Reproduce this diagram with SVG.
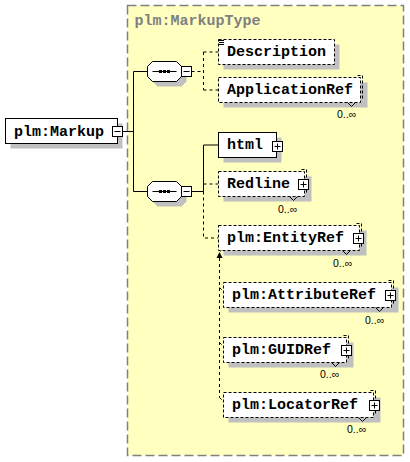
<svg xmlns="http://www.w3.org/2000/svg" xmlns:xlink="http://www.w3.org/1999/xlink" width="410" height="462" viewBox="0 0 410 462">
<style>
.bg{fill:#ffffc0;stroke:#808080;stroke-width:1.5;stroke-dasharray:9,4}
.title{font:bold 15px "Liberation Mono",monospace;fill:#808080}
.t{font:bold 15px "Liberation Mono",monospace;fill:#000}
.m{font:10.5px "Liberation Sans",Arial,sans-serif;fill:#000}
.box{fill:#fff;stroke:#000;stroke-width:1}
.opt{stroke-dasharray:3,2}
.sh{fill:#c0c0c0}
.c{fill:none;stroke:#000;stroke-width:1}
.d{stroke-dasharray:3,3}
.stk{fill:none;stroke:#000;stroke-width:1;stroke-dasharray:3,2}
</style>
<defs>
<g id="plus"><rect x="0.5" y="0.5" width="10" height="10" fill="#fff" stroke="#000"/><path d="M2.5 5.5H8.5M5.5 2.5V8.5" stroke="#000" fill="none"/></g>
<g id="minus"><rect x="0.5" y="0.5" width="10" height="10" fill="#fff" stroke="#000"/><path d="M2.5 5.5H8.5" stroke="#000" fill="none"/></g>
<g id="seq">
<polygon points="10,5 34,5 39,10 39,20 34,25 10,25 5,20 5,10" class="sh"/>
<polygon points="5,0 29,0 34,5 34,15 29,20 5,20 0,15 0,5" class="box"/>
<path d="M5 10H29" stroke="#000"/>
<rect x="11.5" y="8.5" width="3" height="3" fill="#000"/>
<rect x="15.5" y="8.5" width="3" height="3" fill="#000"/>
<rect x="19.5" y="8.5" width="3" height="3" fill="#000"/>
</g>
</defs>
<rect class="bg" x="127.5" y="5.5" width="276" height="450"/>
<text class="title" x="134.5" y="24.5">plm:MarkupType</text>

<g id="connectors">
<path class="c" d="M122.5 131.5H133.5M133.5 71.5V191.5M133.5 71.5H147.5M133.5 191.5H147.5M191.5 191.5H203.5M203.5 191.5V145H218.5"/>
<path class="c d" d="M191.5 71.5H203.5M203.5 52V90M203.5 52H218.5M203.5 90H218.5M203.5 184H218.5M203.5 191.5V238H218.5"/>
<path class="c d" d="M219.5 258V397.5M219.5 287.5L223.5 291.5M219.5 342.5L223.5 346.5M219.5 397.5L223.5 401.5"/>
<polygon points="219.5,252 216.5,258 222.5,258" fill="#000"/>
<path d="M220.5 251.5L223.5 247" stroke="#000" fill="none"/>
<polygon points="226,243.5 220.8,246 224.5,248.5" fill="#000"/>
</g>

<g id="markup">
<rect class="sh" x="10.5" y="123.5" width="112" height="25"/>
<rect class="box" x="5.5" y="118.5" width="112" height="25"/>
<text class="t" x="14" y="135.5">plm:Markup</text>
<use xlink:href="#minus" x="112" y="126"/>
</g>

<g id="seq1">
<use xlink:href="#seq" x="147.5" y="61.5"/>
<use xlink:href="#minus" x="181" y="66"/>
</g>
<g id="seq2">
<use xlink:href="#seq" x="147.5" y="181.5"/>
<use xlink:href="#minus" x="181" y="186"/>
</g>

<g id="description">
<rect class="sh" x="223.5" y="44.5" width="116" height="25"/>
<rect class="box opt" x="218.5" y="39.5" width="116" height="25"/>
<path d="M219 40.5H224M219 42.5H224M219 44.5H224" stroke="#000"/>
<text class="t" x="227" y="56">Description</text>
</g>

<g id="applicationref">
<rect class="sh" x="223.5" y="82.5" width="144" height="25"/>
<rect class="box opt" x="218.5" y="77.5" width="142" height="25"/>
<path class="stk" d="M357.5 75.5H362.5V99.5"/>
<path class="c" d="M347.5 102.5L351.5 106.5L355.5 102.5"/>
<text class="t" x="227" y="94">ApplicationRef</text>
<text class="m" x="337" y="118">0..∞</text>
</g>

<g id="html">
<rect class="sh" x="223.5" y="137.5" width="58" height="25"/>
<rect class="box" x="218.5" y="132.5" width="58" height="25"/>
<text class="t" x="227" y="149">html</text>
<use xlink:href="#plus" x="272" y="141"/>
</g>

<g id="redline">
<rect class="sh" x="223.5" y="176.5" width="88" height="25"/>
<rect class="box opt" x="218.5" y="171.5" width="86" height="25"/>
<path class="stk" d="M301.5 169.5H306.5V193.5"/>
<path class="c" d="M289.5 196.5L293.5 200.5L297.5 196.5"/>
<text class="t" x="227" y="188">Redline</text>
<use xlink:href="#plus" x="298" y="179"/>
<text class="m" x="278" y="212.5">0..∞</text>
</g>

<g id="entityref">
<rect class="sh" x="223.5" y="230.5" width="143" height="25"/>
<rect class="box opt" x="218.5" y="225.5" width="141" height="25"/>
<path class="stk" d="M356.5 223.5H361.5V247.5"/>
<path class="c" d="M342.5 250.5L346.5 254.5L350.5 250.5"/>
<text class="t" x="227" y="242">plm:EntityRef</text>
<use xlink:href="#plus" x="353" y="233"/>
<text class="m" x="333" y="266.5">0..∞</text>
</g>

<g id="attributeref">
<rect class="sh" x="228.5" y="287.5" width="170" height="25"/>
<rect class="box opt" x="223.5" y="282.5" width="168" height="25"/>
<path class="stk" d="M388.5 280.5H393.5V304.5"/>
<path class="c" d="M375.5 307.5L379.5 311.5L383.5 307.5"/>
<text class="t" x="232" y="299">plm:AttributeRef</text>
<use xlink:href="#plus" x="385" y="290"/>
<text class="m" x="365" y="324">0..∞</text>
</g>

<g id="guidref">
<rect class="sh" x="228.5" y="342.5" width="125" height="25"/>
<rect class="box opt" x="223.5" y="337.5" width="123" height="25"/>
<path class="stk" d="M343.5 335.5H348.5V359.5"/>
<path class="c" d="M331.5 362.5L335.5 366.5L339.5 362.5"/>
<text class="t" x="232" y="354">plm:GUIDRef</text>
<use xlink:href="#plus" x="341" y="345"/>
<text class="m" x="320" y="378">0..∞</text>
</g>

<g id="locatorref">
<rect class="sh" x="228.5" y="397.5" width="152" height="25"/>
<rect class="box opt" x="223.5" y="392.5" width="150" height="25"/>
<path class="stk" d="M370.5 390.5H375.5V414.5"/>
<path class="c" d="M358.5 417.5L362.5 421.5L366.5 417.5"/>
<text class="t" x="232" y="409">plm:LocatorRef</text>
<use xlink:href="#plus" x="369" y="400"/>
<text class="m" x="347" y="433">0..∞</text>
</g>
</svg>
